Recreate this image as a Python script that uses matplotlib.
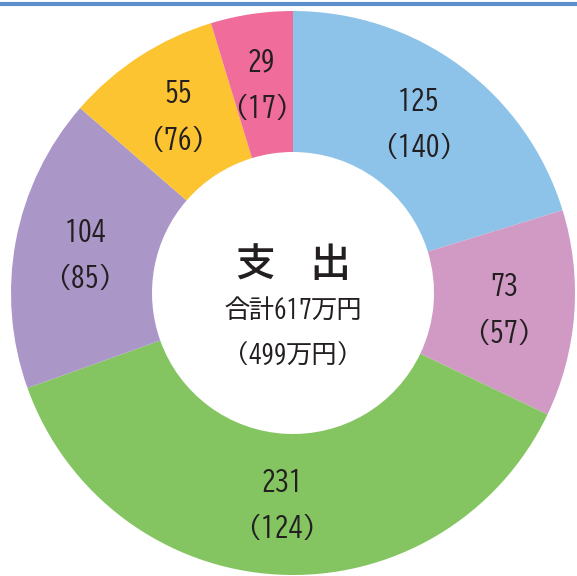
import numpy as np
import matplotlib.pyplot as plt
from matplotlib.lines import Line2D

# 支出 (万円) - current year, previous year in parentheses
values = [125, 73, 231, 104, 55, 29]
prev_values = [140, 57, 124, 85, 76, 17]
colors = ['#8EC3E9', '#D19AC4', '#84C562', '#AB96C8', '#FDC431', '#F06C9A']

title = '支　出'
total_text = '合計617万円'
prev_total_text = '（499万円）'

jp_font = ['BIZ UDGothic', 'Noto Sans CJK JP', 'DejaVu Sans']
text_color = '#231f20'

fig = plt.figure(figsize=(5.77, 5.76), dpi=100)
ax = fig.add_axes([0, 0, 1, 1])

# donut centre at pixel (293, 293 from top), radius 282 px
scale = 282.0
cx, cy = 293.0, 576 - 293.0

ax.pie(values, colors=colors, startangle=90, counterclock=False,
       radius=1.0, wedgeprops=dict(width=0.5, linewidth=0))

total = sum(values)
start = 90.0
for v, pv in zip(values, prev_values):
    ang = np.deg2rad(start - v / total * 360 / 2)
    start -= v / total * 360
    x, y = 0.75 * np.cos(ang), 0.75 * np.sin(ang)
    ax.text(x, y + 0.082, str(v), ha='center', va='center', fontsize=20,
            family=jp_font, color=text_color)
    ax.text(x, y - 0.082, '(' + str(pv) + ')', ha='center', va='center',
            fontsize=20, family=jp_font, color=text_color)

ax.text(0, 0.11, title, ha='center', va='center', fontsize=27,
        fontweight='bold', family=jp_font, color=text_color)
ax.text(0, -0.057, total_text, ha='center', va='center', fontsize=18,
        family=jp_font, color=text_color)
ax.text(0, -0.216, prev_total_text, ha='center', va='center', fontsize=18,
        family=jp_font, color=text_color)

ax.set_xlim(-cx / scale, (577 - cx) / scale)
ax.set_ylim(-cy / scale, (576 - cy) / scale)
ax.set_aspect('auto')
ax.axis('off')

# blue rule along the top
fig.add_artist(Line2D([0, 1], [1 - 4 / 576, 1 - 4 / 576], color='#5B8FCB',
                      linewidth=3.0, transform=fig.transFigure))

fig.savefig('out.png', dpi=100)
